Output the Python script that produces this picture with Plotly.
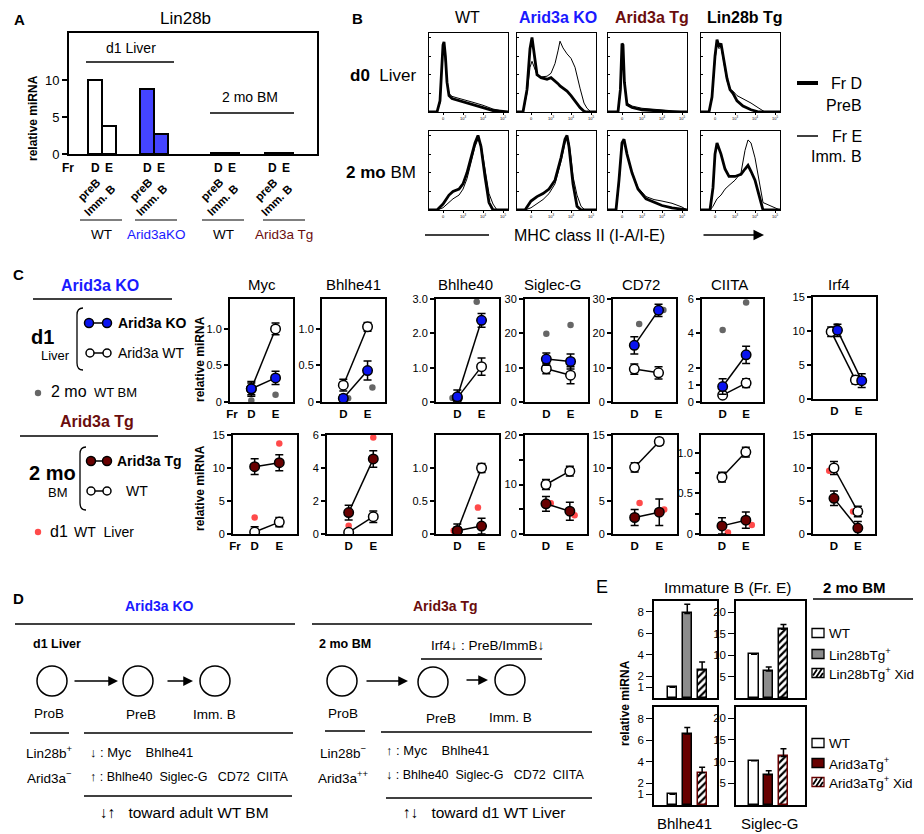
import plotly.graph_objects as go

W, H = 924, 834
FONT = "Liberation Sans, Arial, Helvetica, sans-serif"
BLUE_TXT = "#1a1aff"
RED_TXT = "#6b0d0d"
KO_FILL = "#0a14f0"
TG_FILL = "#680000"
LIVER_DOT = "#ff4a4a"
BM_DOT = "#666666"
A_KO_FILL = "#4444ff"
E_GRAY = "#8c8c8c"
NB = "\u00a0"

# ---------------- data ----------------
# A: Lin28b, relative miRNA in Fr D (preB) and Fr E (Imm. B)
a_groups = ["WT", "Arid3aKO", "WT", "Arid3a Tg"]
a_preB = [10.0, 8.8, 0.1, 0.1]
a_immB = [3.8, 2.7, 0.2, 0.15]
a_yticks = [0, 5, 10]

# B: MHC class II histograms (x in decades: 0, 10^3, 10^4, 10^5; y in % of max)
b_cols = ["WT", "Arid3a KO", "Arid3a Tg", "Lin28b Tg"]
b_wt_liver_x = [-0.7, -0.3, -0.15, -0.05, 0.0, 0.05, 0.12, 0.2, 0.3, 0.45, 0.7, 1.0, 1.5, 2.0, 2.5, 3.0, 3.25]
b_wt_liver_D = [0, 0, 15, 60, 90, 94, 75, 40, 22, 18, 16, 13, 10, 6, 2, 0, 0]
b_wt_liver_E = [0, 0, 12, 55, 88, 92, 72, 40, 25, 21, 19, 17, 13, 9, 4, 1, 0]
b_ko_liver_x = [-0.7, -0.4, -0.2, -0.05, 0.05, 0.15, 0.3, 0.5, 0.8, 1.0, 1.2, 1.35, 1.45, 1.6, 1.8, 2.0, 2.2, 2.45, 2.65, 2.8, 3.0, 3.25]
b_ko_liver_D = [0, 0, 30, 85, 100, 80, 50, 46, 44, 46, 42, 38, 35, 32, 28, 22, 15, 6, 1, 0, 0, 0]
b_ko_liver_E = [0, 0, 25, 60, 68, 60, 50, 47, 48, 52, 65, 82, 95, 86, 78, 72, 60, 32, 12, 5, 0, 0]
b_tg_liver_x = [-0.7, -0.2, -0.08, 0.0, 0.05, 0.12, 0.25, 0.5, 1.0, 1.5, 2.0, 2.5, 3.25]
b_tg_liver_D = [0, 0, 30, 92, 90, 40, 10, 6, 3, 2, 1, 0, 0]
b_tg_liver_E = [0, 0, 25, 85, 88, 38, 12, 8, 5, 4, 3, 1, 0]
b_lin_liver_x = [-0.7, -0.3, -0.15, 0.0, 0.1, 0.2, 0.3, 0.45, 0.6, 0.75, 0.9, 1.1, 1.4, 1.8, 2.2, 2.5, 3.25]
b_lin_liver_D = [0, 0, 20, 75, 97, 88, 92, 70, 45, 30, 25, 15, 8, 3, 0, 0, 0]
b_lin_liver_E = [0, 0, 18, 70, 90, 85, 88, 65, 42, 30, 28, 22, 18, 12, 5, 0, 0]
b_wt_bm_x = [-0.7, -0.3, 0.0, 0.3, 0.5, 0.8, 1.0, 1.2, 1.4, 1.6, 1.75, 1.9, 2.1, 2.3, 2.5, 2.7, 3.25]
b_wt_bm_D = [0, 0, 8, 20, 25, 28, 35, 50, 70, 90, 100, 85, 45, 10, 0, 0, 0]
b_wt_bm_E = [0, 0, 3, 10, 15, 20, 28, 42, 62, 85, 95, 88, 55, 22, 8, 0, 0]
b_ko_bm_x = [-0.7, -0.3, 0.0, 0.3, 0.6, 0.9, 1.2, 1.5, 1.7, 1.8, 1.9, 2.0, 2.1, 2.3, 2.5, 2.7, 3.25]
b_ko_bm_D = [0, 0, 12, 18, 22, 28, 40, 70, 95, 100, 85, 60, 35, 5, 0, 0, 0]
b_ko_bm_E = [0, 0, 3, 8, 14, 22, 35, 65, 90, 95, 90, 70, 45, 20, 5, 0, 0]
b_tg_bm_x = [-0.7, -0.3, -0.15, 0.0, 0.1, 0.25, 0.5, 0.8, 1.2, 1.6, 2.0, 2.5, 3.0, 3.25]
b_tg_bm_D = [0, 0, 40, 90, 95, 75, 50, 28, 15, 10, 6, 3, 1, 0]
b_tg_bm_E = [0, 0, 35, 88, 93, 75, 50, 30, 18, 14, 12, 9, 4, 0]
b_lin_bm_x = [-0.7, -0.25, -0.1, 0.0, 0.1, 0.3, 0.5, 0.7, 1.0, 1.3, 1.5, 1.65, 1.8, 2.0, 2.2, 2.4, 3.25]
b_lin_bm_D = [0, 0, 30, 75, 90, 75, 55, 45, 45, 48, 55, 60, 52, 40, 20, 0, 0]
b_lin_bm_E = [0, 0, 5, 10, 15, 20, 28, 33, 40, 50, 80, 94, 90, 70, 40, 10, 0]
b_ticktext = ["0", "10<sup>3</sup>", "10<sup>4</sup>", "10<sup>5</sup>"]

# C: relative miRNA at Fr D and Fr E, [D, E] per gene
c_genes = ["Myc", "Bhlhe41", "Bhlhe40", "Siglec-G", "CD72", "CIITA", "Irf4"]
c_ko = [[0.18, 0.33], [0.05, 0.43], [0.15, 2.38], [12.5, 11.8], [16.5, 26.7], [0.9, 2.75], [10.1, 2.7]]
c_ko_err = [[0.1, 0.09], [0.05, 0.13], [0.2, 0.2], [1.8, 2.2], [2.5, 1.8], [0.45, 0.5], [0.9, 1.0]]
c_wt1 = [[0.18, 1.0], [0.23, 1.03], [0.12, 1.03], [9.7, 7.8], [9.6, 8.5], [0.4, 1.1], [9.9, 2.8]]
c_wt1_err = [[0.08, 0.08], [0.08, 0.06], [0.1, 0.25], [1.5, 2.5], [1.5, 1.8], [0.1, 0.25], [0.7, 0.6]]
c_bm = [[0.02, 0.1], [0.05, 0.2], [0.12, 2.92], [19.9, 22.4], [22.7, 26.8], [4.2, 5.8], [10.7, 2.8]]
c_tg = [[10.2, 10.8], [1.3, 4.55], [0.05, 0.12], [6.1, 4.6], [2.5, 3.3], [0.1, 0.17], [5.4, 0.9]]
c_tg_err = [[1.2, 1.2], [0.45, 0.5], [0.05, 0.12], [1.5, 1.8], [1.2, 2.0], [0.1, 0.1], [1.1, 1.0]]
c_wt2 = [[0.3, 1.8], [0.1, 1.05], [0.05, 1.0], [10.0, 12.7], [10.1, 14.0], [0.7, 1.01], [10.0, 3.4]]
c_wt2_err = [[0.8, 0.7], [0.1, 0.35], [0.1, 0.07], [1.0, 1.0], [0.7, 0.5], [0.06, 0.06], [1.0, 0.8]]
c_liver = [[2.5, 13.7], [0.5, 5.85], [0.05, 0.4], [6.2, 3.8], [4.7, 3.7], [0.02, 0.11], [9.6, 3.4]]
c_top_max = [1.41, 1.41, 3.0, 30, 30, 6, 15]
c_top_ticks = [[0, 0.5, 1.0], [0, 0.5, 1.0], [0, 1, 2, 3], [0, 10, 20, 30], [0, 10, 20, 30], [0, 1, 2, 4, 6], [0, 5, 10, 15]]
c_top_ticktext = [["0", "0.5", "1.0"], ["0", "0.5", "1.0"], ["0", "1.0", "2.0", "3.0"], ["0", "10", "20", "30"],
                  ["0", "10", "20", "30"], ["0", "1", "2", "4", "6"], ["0", "5", "10", "15"]]
c_bot_max = [15, 6, 1.5, 20, 15, 1.22, 15]
c_bot_ticks = [[0, 5, 10, 15], [0, 2, 4, 6], [0, 0.5, 1.0], [0, 5, 10, 15, 20], [0, 5, 10, 15], [0, 0.25, 0.5, 0.75, 1.0], [0, 5, 10, 15]]
c_bot_ticktext = [["0", "5", "10", "15"], ["0", "2", "4", "6"], ["0", "0.5", "1.0"], ["0", " ", "10", " ", "20"],
                  ["0", "5", "10", "15"], ["0", " ", "0.5", " ", "1.0"], ["0", "5", "10", "15"]]

# E: Immature B (Fr. E), 2 mo BM
e_lin_groups = ["WT", "Lin28bTg<sup>+</sup>", "Lin28bTg<sup>+</sup> Xid"]
e_arid_groups = ["WT", "Arid3aTg<sup>+</sup>", "Arid3aTg<sup>+</sup> Xid"]
e_lin_bhlhe41 = [1.0, 7.85, 2.6]
e_lin_bhlhe41_err = [0, 0.85, 0.75]
e_lin_siglec = [10.2, 6.3, 16.0]
e_lin_siglec_err = [0, 0.9, 1.1]
e_arid_bhlhe41 = [1.0, 6.6, 3.0]
e_arid_bhlhe41_err = [0, 0.6, 0.5]
e_arid_siglec = [10.2, 7.0, 11.2]
e_arid_siglec_err = [0, 0.9, 1.8]

# ---------------- helpers ----------------
fig = go.Figure()
n_axes = [0]


def new_axes(px0, px1, py0, py1, xr, yr, xkw=None, ykw=None, lw=1.5):
    n_axes[0] += 1
    s = "" if n_axes[0] == 1 else str(n_axes[0])
    base = dict(showgrid=False, zeroline=False, showline=True, mirror=True, linecolor="black",
                linewidth=lw, ticks="", showticklabels=False, fixedrange=True, automargin=False,
                tickcolor="black", tickfont=dict(size=11, color="black", family=FONT))
    xa = dict(base, domain=[px0 / W, px1 / W], range=xr, anchor="y" + s)
    ya = dict(base, domain=[1 - py1 / H, 1 - py0 / H], range=yr, anchor="x" + s)
    if xkw:
        xa.update(xkw)
    if ykw:
        ya.update(ykw)
    fig.update_layout(**{"xaxis" + s: xa, "yaxis" + s: ya})
    return "x" + s, "y" + s


def txt(s, x, y, size=12, color="black", bold=False, xanchor="center", angle=0, xref=None):
    if bold:
        s = "<b>" + s + "</b>"
    fig.add_annotation(text=s, x=(x if xref else x / W), y=1 - y / H, xref=xref or "paper", yref="paper",
                       showarrow=False, xanchor=xanchor, yanchor="middle", textangle=angle,
                       font=dict(size=size, color=color, family=FONT))


def line(x0, y0, x1, y1, w=1.5, color="black"):
    fig.add_shape(type="line", xref="paper", yref="paper", x0=x0 / W, y0=1 - y0 / H,
                  x1=x1 / W, y1=1 - y1 / H, line=dict(color=color, width=w))


def circ(cx, cy, r, fill="white", lw=1.5):
    fig.add_shape(type="circle", xref="paper", yref="paper", x0=(cx - r) / W, x1=(cx + r) / W,
                  y0=1 - (cy + r) / H, y1=1 - (cy - r) / H, fillcolor=fill,
                  line=dict(color="black", width=lw))


def rect(x0, y0, x1, y1, fill="white", lc="black", lw=1.2):
    fig.add_shape(type="rect", xref="paper", yref="paper", x0=x0 / W, x1=x1 / W,
                  y0=1 - y1 / H, y1=1 - y0 / H, fillcolor=fill, line=dict(color=lc, width=lw))


def P(x, y):
    return f"{x / W:.5f},{1 - y / H:.5f}"


def bracket(x, y0, y1):
    fig.add_shape(type="path", xref="paper", yref="paper",
                  path=f"M{P(x + 6, y0)} Q{P(x, y0)} {P(x, y0 + 7)} L{P(x, y1 - 7)} Q{P(x, y1)} {P(x + 6, y1)}",
                  line=dict(color="black", width=1.3))


def arrow(x0, y0, x1, y1, w=1.5, size=1.3):
    fig.add_annotation(x=x1 / W, y=1 - y1 / H, ax=x0 - x1, ay=y0 - y1, xref="paper", yref="paper",
                       axref="pixel", ayref="pixel", text="", showarrow=True, arrowhead=2,
                       arrowsize=size, arrowwidth=w, arrowcolor="black", standoff=0)


# ---------------- A ----------------
A_X = [2.36, 6.07, 11.14, 15.0]
a_fill = ["white", A_KO_FILL, "white", "white"]
xa, ya = new_axes(69, 317, 33, 154, [0, 17.71], [0, 16.35], lw=2,
                  ykw=dict(ticks="outside", ticklen=5, tickwidth=1.5, tickvals=a_yticks,
                           showticklabels=True, tickfont=dict(size=13, family=FONT)))
fig.add_bar(x=[c - 0.5 for c in A_X], y=a_preB, width=1, xaxis=xa, yaxis=ya, showlegend=False,
            marker=dict(color=a_fill, line=dict(color="black", width=2)))
fig.add_bar(x=[c + 0.5 for c in A_X], y=a_immB, width=1, xaxis=xa, yaxis=ya, showlegend=False,
            marker=dict(color=a_fill, line=dict(color="black", width=2)))
txt("A", 19, 20, 15, bold=True)
txt("Lin28b", 185, 19, 17)
txt("relative miRNA", 33, 118, 12, bold=True, angle=-90)
txt("Fr", 68, 168, 12, bold=True)
a_gcol = ["black", BLUE_TXT, "black", RED_TXT]
a_ux = [(80, 122), (135, 177), (202, 244), (263, 305)]
for g, c in enumerate(A_X):
    txt("D", c - 0.5, 168, 12, bold=True, xref=xa)
    txt("E", c + 0.5, 168, 12, bold=True, xref=xa)
    txt("preB<br>Imm. B", c - 0.6, 195, 11.5, bold=True, angle=-45, xref=xa)
    line(a_ux[g][0], 220, a_ux[g][1], 220, 1.2)
    txt(a_groups[g], (a_ux[g][0] + a_ux[g][1]) / 2, 234, 13.5, color=a_gcol[g])
txt("d1 Liver", 131, 48, 14)
line(86, 62, 174, 62, 1.5)
txt("2 mo BM", 250, 97, 14)
line(210, 113, 294, 113, 1.5)

# ---------------- B ----------------
b_curves = [[(b_wt_liver_x, b_wt_liver_D, b_wt_liver_E), (b_ko_liver_x, b_ko_liver_D, b_ko_liver_E),
             (b_tg_liver_x, b_tg_liver_D, b_tg_liver_E), (b_lin_liver_x, b_lin_liver_D, b_lin_liver_E)],
            [(b_wt_bm_x, b_wt_bm_D, b_wt_bm_E), (b_ko_bm_x, b_ko_bm_D, b_ko_bm_E),
             (b_tg_bm_x, b_tg_bm_D, b_tg_bm_E), (b_lin_bm_x, b_lin_bm_D, b_lin_bm_E)]]
b_box_x = [(429, 508), (517, 596), (608, 687), (701, 780)]
b_box_y = [(33, 112), (131, 210)]
for r in range(2):
    for c in range(4):
        bx, by = b_box_x[c], b_box_y[r]
        xa, ya = new_axes(bx[0], bx[1], by[0], by[1], [-0.7, 3.25], [0, 106], lw=1.2,
                          xkw=dict(ticks="outside", ticklen=2, tickwidth=0.8, tickvals=[0, 1, 2, 3],
                                   ticktext=b_ticktext, showticklabels=True,
                                   tickfont=dict(size=4, family=FONT)),
                          ykw=dict(ticks="inside", ticklen=2, tickwidth=0.8, tickvals=[25, 50, 75, 100]))
        xs, yd, ye = b_curves[r][c]
        fig.add_scatter(x=xs, y=ye, mode="lines", line=dict(color="black", width=1), xaxis=xa, yaxis=ya,
                        showlegend=False)
        fig.add_scatter(x=xs, y=yd, mode="lines", line=dict(color="black", width=2.8), xaxis=xa, yaxis=ya,
                        showlegend=False)
txt("B", 357, 19, 15, bold=True)
b_col_color = ["black", BLUE_TXT, RED_TXT, "black"]
b_col_x = [467, 558, 652, 745]
for c in range(4):
    txt(b_cols[c], b_col_x[c], 18, 16, color=b_col_color[c], bold=(c > 0))
txt("<b>d0</b>  Liver", 418, 76, 17, xanchor="right")
txt("<b>2 mo</b> BM", 418, 172, 17, xanchor="right")
line(797, 83, 818, 83, 4)
txt("Fr D", 864, 83, 16, xanchor="right")
txt("PreB", 864, 105, 16, xanchor="right")
line(797, 136, 818, 136, 1.5)
txt("Fr E", 864, 136, 16, xanchor="right")
txt("Imm. B", 864, 157, 16, xanchor="right")
line(425, 235, 489, 235, 1.5)
txt("MHC class II (I-A/I-E)", 589, 235, 16)
arrow(702, 235, 764, 235, 1.5, 1.4)

# ---------------- C ----------------
c_top_x = [(230, 293), (322, 385), (436, 499), (525, 588), (613, 676), (702, 763), (813, 876)]
c_bot_x = [(233, 297), (327, 391), (436, 499), (525, 587), (613, 677), (701, 763), (813, 875)]
c_title_x = [262, 353, 465, 553, 641, 729, 839]
PAIR_DX = [0, 0, 0, 0, 0, 0, 0.13]            # Irf4 WT/KO drawn side by side
TOP_DOT_DX = [0, 0.2, -0.2, 0, 0.2, 0, 0.1]
BOT_DOT_DX = [0, 0, -0.15, 0.2, 0.2, 0.25, -0.2]
err_kw = dict(type="data", color="black", thickness=1.5, width=4, visible=True)


def c_axes(bx, by, ymax, tv, tt, first):
    if first:
        xt = dict(tickvals=[-0.8, 0, 1], ticktext=["<b>Fr</b>", "<b>D</b>", "<b>E</b>"])
    else:
        xt = dict(tickvals=[0, 1], ticktext=["<b>D</b>", "<b>E</b>"])
    xt.update(showticklabels=True, tickfont=dict(size=11.5, family=FONT))
    return new_axes(bx[0], bx[1], by[0], by[1], [-0.88, 1.72], [0, ymax], lw=2, xkw=xt,
                    ykw=dict(ticks="outside", ticklen=4, tickwidth=1.5, tickvals=tv, ticktext=tt,
                             showticklabels=True, tickfont=dict(size=11, family=FONT)))


def c_series(xa, ya, y, err, fill, dx=0.0):
    fig.add_scatter(x=[0 + dx, 1 + dx], y=y, mode="lines+markers", xaxis=xa, yaxis=ya, showlegend=False,
                    line=dict(color="black", width=1.5),
                    marker=dict(size=9.5, color=fill, line=dict(color="black", width=1.5)),
                    error_y=dict(err_kw, array=err))


for i, g in enumerate(c_genes):
    y_top = (297, 399) if g == "Irf4" else (299, 402)
    xa, ya = c_axes(c_top_x[i], y_top, c_top_max[i], c_top_ticks[i], c_top_ticktext[i], i == 0)
    d = TOP_DOT_DX[i]
    fig.add_scatter(x=[d, 1 + d], y=c_bm[i], mode="markers", xaxis=xa, yaxis=ya, showlegend=False,
                    marker=dict(size=6.5, color=BM_DOT))
    c_series(xa, ya, c_wt1[i], c_wt1_err[i], "white", -PAIR_DX[i])
    c_series(xa, ya, c_ko[i], c_ko_err[i], KO_FILL, PAIR_DX[i])
    txt(g, c_title_x[i], 284, 15)

    xa, ya = c_axes(c_bot_x[i], (435, 534), c_bot_max[i], c_bot_ticks[i], c_bot_ticktext[i], i == 0)
    d = BOT_DOT_DX[i]
    fig.add_scatter(x=[d, 1 + d], y=c_liver[i], mode="markers", xaxis=xa, yaxis=ya, showlegend=False,
                    marker=dict(size=6.5, color=LIVER_DOT))
    c_series(xa, ya, c_wt2[i], c_wt2_err[i], "white")
    c_series(xa, ya, c_tg[i], c_tg_err[i], TG_FILL)

txt("C", 18, 275, 15, bold=True)
txt("relative miRNA", 200, 359, 12, bold=True, angle=-90)
txt("relative miRNA", 200, 488, 12, bold=True, angle=-90)
# C legend, KO
txt("Arid3a KO", 100, 285, 16, color=BLUE_TXT, bold=True)
line(33, 299, 172, 299, 1.5)
txt("d1", 42, 337, 20, bold=True)
txt("Liver", 55, 355, 13)
bracket(77, 308, 370)
line(89, 323, 107, 323, 1.5)
circ(89, 323, 4.5, KO_FILL)
circ(107, 323, 4.5, KO_FILL)
txt("Arid3a KO", 116, 323, 14, bold=True, xanchor="left")
line(90, 353, 107, 353, 1.5)
circ(90, 353, 4, "white")
circ(107, 353, 4, "white")
txt("Arid3a WT", 116, 353, 14, xanchor="left")
circ(38, 393, 3.2, BM_DOT, 0)
txt("2 mo", 49, 392, 16, xanchor="left")
txt("WT BM", 92, 393, 13, xanchor="left")
# C legend, Tg
txt("Arid3a Tg", 97, 422, 16, color=RED_TXT, bold=True)
line(20, 436, 158, 436, 1.5)
txt("2 mo", 52, 473, 20, bold=True)
txt("BM", 58, 492, 13)
bracket(80, 447, 510)
line(91, 461, 107, 461, 1.5)
circ(91, 461, 4.5, TG_FILL)
circ(107, 461, 4.5, TG_FILL)
txt("Arid3a Tg", 115, 461, 14, bold=True, xanchor="left")
line(91, 491, 107, 491, 1.5)
circ(91, 491, 4, "white")
circ(107, 491, 4, "white")
txt("WT", 124, 491, 14, xanchor="left")
circ(38, 532, 3.2, LIVER_DOT, 0)
txt("d1", 48, 531, 16, xanchor="left")
txt("WT" + NB * 2 + "Liver", 72, 532, 14, xanchor="left")

# ---------------- D ----------------
txt("D", 18, 598, 15, bold=True)
for side in range(2):
    if side == 0:
        title, tcol, tx = "Arid3a KO", BLUE_TXT, 159
        cx = [(52, 681), (138, 681), (215, 681)]
        lab = [(49, 713), (141, 714), (214, 714)]
        arr = [(73, 118, 681), (166, 193, 681)]
        tissue, tis_x = "d1 Liver", 31
        top_line, short_l, long_l = (15, 295, 624), (30, 69, 733), (84, 293, 733)
        marks = ["Lin28b<sup>+</sup>", "Arid3a<sup>\u2212</sup>"]
        mark_x = 49
        arrows = ("\u2193", "\u2191")
        gx, gy = 88, (752, 777)
        bottom_l, concl, cx_c = (84, 292, 796), "\u2193\u2191" + NB * 3 + "toward adult WT BM", 184
    else:
        title, tcol, tx = "Arid3a Tg", RED_TXT, 445
        cx = [(342, 681), (433, 682), (510, 680)]
        lab = [(343, 713), (441, 718), (510, 717)]
        arr = [(365, 408, 681), (465, 488, 680)]
        tissue, tis_x = "2 mo BM", 317
        top_line, short_l, long_l = (312, 592, 624), (325, 365, 731), (381, 592, 732)
        marks = ["Lin28b<sup>\u2212</sup>", "Arid3a<sup>++</sup>"]
        mark_x = 343
        arrows = ("\u2191", "\u2193")
        gx, gy = 384, (750, 775)
        bottom_l, concl, cx_c = (386, 592, 798), "\u2191\u2193" + NB * 3 + "toward d1 WT Liver", 484
    txt(title, tx, 606, 14, color=tcol, bold=True)
    line(top_line[0], top_line[2], top_line[1], top_line[2], 1.5)
    txt(tissue, tis_x, 644, 12.5, bold=True, xanchor="left")
    for (x, y) in cx:
        circ(x, y, 15, "white", 1.5)
    for (a0, a1, y) in arr:
        arrow(a0, y, a1, y, 1.5, 1.3)
    for s, (x, y) in zip(["ProB", "PreB", "Imm. B"], lab):
        txt(s, x, y, 13.5)
    line(short_l[0], short_l[2], short_l[1], short_l[2], 1.5)
    line(long_l[0], long_l[2], long_l[1], long_l[2], 1.5)
    txt(marks[0], mark_x, 752, 13.5)
    txt(marks[1], mark_x, 777, 13.5)
    txt(arrows[0] + " : " + "Myc" + NB * 4 + "Bhlhe41", gx, gy[0], 13, xanchor="left")
    txt(arrows[1] + " : " + "Bhlhe40" + NB * 2 + "Siglec-G" + NB * 3 + "CD72" + NB * 2 + "CIITA",
        gx, gy[1], 12.5, xanchor="left")
    line(bottom_l[0], bottom_l[2], bottom_l[1], bottom_l[2], 1.5)
    txt(concl, cx_c, 812, 15.5)
txt("Irf4<b>\u2193</b> : PreB/ImmB<b>\u2193</b>", 487, 645, 13.5)
line(421, 659, 542, 659, 1.5)

# ---------------- E ----------------
txt("E", 602, 587, 18)
txt("Immature B (Fr. E)", 727, 587, 15.5)
txt("2 mo BM", 854, 587, 15, bold=True)
line(813, 599, 913, 599, 1.5)
txt("relative miRNA", 625, 703, 12, bold=True, angle=-90)
txt("Bhlhe41", 684, 823, 15)
txt("Siglec-G", 770, 823, 15)

e_panels = [
    ((654, 717), (601, 698), [-1.24, 3.0], 9.0, [1, 2, 4, 6, 8], e_lin_bhlhe41, e_lin_bhlhe41_err, E_GRAY, "black"),
    ((736, 805), (601, 698), [-1.22, 3.46], 22.6, [5, 10, 15, 20], e_lin_siglec, e_lin_siglec_err, E_GRAY, "black"),
    ((654, 717), (707, 805), [-1.24, 3.0], 9.1, [1, 2, 4, 6, 8], e_arid_bhlhe41, e_arid_bhlhe41_err, TG_FILL, TG_FILL),
    ((736, 805), (707, 805), [-1.22, 3.46], 22.6, [5, 10, 15, 20], e_arid_siglec, e_arid_siglec_err, TG_FILL, TG_FILL),
]
for bx, by, xr, ymax, tv, vals, errs, mid, xid_line in e_panels:
    xa, ya = new_axes(bx[0], bx[1], by[0], by[1], xr, [0, ymax], lw=1.5,
                      ykw=dict(ticks="outside", ticklen=6, tickwidth=1.2, tickvals=tv, showticklabels=True,
                               tickfont=dict(size=11.5, family=FONT)))
    # WT and Tg bars
    fig.add_bar(x=[0, 1], y=vals[:2], width=0.62, xaxis=xa, yaxis=ya, showlegend=False,
                marker=dict(color=["white", mid], line=dict(color="black", width=1.5)),
                error_y=dict(type="data", symmetric=False, array=errs[:2], arrayminus=[0, 0],
                             color="black", thickness=1.5, width=3))
    # Xid bar, hatched
    fig.add_bar(x=[2], y=vals[2:], width=0.62, xaxis=xa, yaxis=ya, showlegend=False,
                marker=dict(color="white", line=dict(color=xid_line, width=1.5),
                            pattern=dict(shape="/", fgcolor="black", bgcolor="white", size=5,
                                         solidity=0.45, fillmode="replace")),
                error_y=dict(type="data", symmetric=False, array=errs[2:], arrayminus=[0],
                             color="black", thickness=1.5, width=3))

# E legends (swatches)
for rows, mid, xid_line, names in [((633, 654, 673), E_GRAY, "black", e_lin_groups),
                                   ((743, 763, 782), TG_FILL, TG_FILL, e_arid_groups)]:
    for k, yc in enumerate(rows):
        fill = ["white", mid, "white"][k]
        lc = "black" if k < 2 else xid_line
        rect(812, yc - 4.5, 824, yc + 4.5, fill, lc, 1.3)
        if k == 2:
            for (p0, p1) in [((813, yc + 2.5), (817, yc - 3.5)), ((816, yc + 4.5), (822, yc - 4.5)),
                             ((820, yc + 4.5), (823, yc))]:
                line(p0[0], p0[1], p1[0], p1[1], 1.8)
        txt(names[k], 827, yc, 13.5, xanchor="left")

fig.update_layout(width=W, height=H, margin=dict(l=0, r=0, t=0, b=0), showlegend=False,
                  paper_bgcolor="white", plot_bgcolor="rgba(0,0,0,0)", template="none",
                  font=dict(family=FONT, color="black"), bargap=0, barmode="overlay")
fig.write_html("out.html", config={"displayModeBar": False},
               post_script="document.body.style.margin='0px';")
